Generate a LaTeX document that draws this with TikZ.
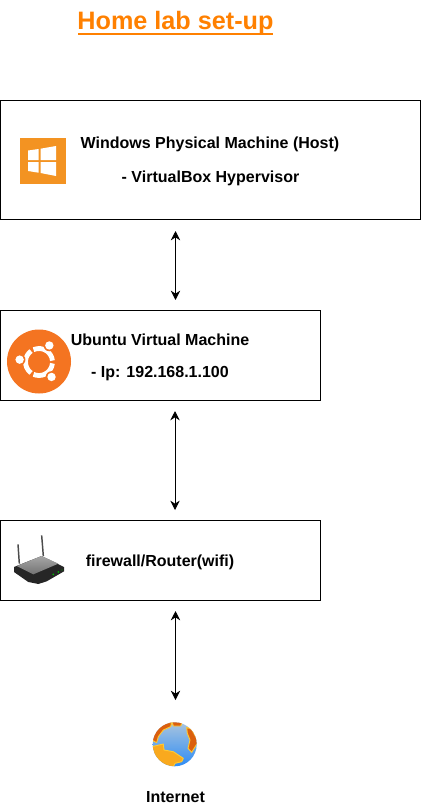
\documentclass[tikz,border=0pt]{standalone}
\usepackage{fontspec}
\usetikzlibrary{arrows.meta}
\setmainfont{Liberation Sans}
\definecolor{titleorange}{HTML}{FF8000}
\definecolor{winorange}{HTML}{F39322}
\definecolor{ubuorange}{HTML}{F47421}
\definecolor{landorange}{HTML}{F9A91E}
\definecolor{landdark}{HTML}{DB5F0E}
\definecolor{landedge}{HTML}{FFC933}
\definecolor{seatop}{HTML}{A8C4DE}
\definecolor{seabottom}{HTML}{2E8CF5}
\tikzset{
  machine/.style={draw, line width=0.75pt},
  boxtext/.style={font=\bfseries\fontsize{12}{14}\selectfont, text=black},
  link/.style={<->, line width=0.75pt},
  land/.style={draw=landedge, line width=0.7pt, line join=round}
}
\begin{document}
\begin{tikzpicture}[x=0.75pt, y=-0.75pt, >={Stealth[length=7pt,width=7pt]}]
    \useasboundingbox (0,0) rectangle (421,810);
    \node[font=\bfseries\fontsize{18.9}{21}\selectfont, text=titleorange] (title) at (175.5,23) {Home lab set-up};
    \coordinate (lineleft) at (78,33.5);
    \coordinate (lineright) at (273,33.5);
    \draw[titleorange, line width=1.5pt] (lineleft) -- (lineright);

    % boxes
    \draw[machine] (0.5,100.5) rectangle (420.5,219.5);
    \draw[machine] (0.5,310.5) rectangle (320.5,400.5);
    \draw[machine] (0.5,520.5) rectangle (320.5,600.5);

    % labels
    \node[boxtext] (hostname) at (210,144.5) {Windows Physical Machine (Host)};
    \node[boxtext] (hosthyp) at (210.5,178.5) {- VirtualBox Hypervisor};
    \node[boxtext] (ubuname) at (160,340) {Ubuntu Virtual Machine};
    \node[boxtext] (ubuip) at (160,374) {- Ip: 192.168.1.100};
    \node[boxtext] (router) at (160,562) {firewall/Router(wifi)};
    \node[boxtext] (internet) at (175.5,797) {Internet};

    % arrows
    \coordinate (hostdown) at (175.5,231);
    \coordinate (ubuup) at (175.5,300);
    \coordinate (ubudown) at (175,411);
    \coordinate (routerup) at (175,510);
    \coordinate (routerdown) at (175.5,611);
    \coordinate (netup) at (175.5,700);
    \draw[link] (hostdown) -- (ubuup);
    \draw[link] (ubudown) -- (routerup);
    \draw[link] (routerdown) -- (netup);

    % windows icon
    \fill[winorange] (20,138) rectangle (65.5,183.5);
    \fill[white] (28,150.5) -- (38.5,149) -- (38.5,160) -- (28,160) -- cycle;
    \fill[white] (40.5,148.7) -- (56,146) -- (56,160) -- (40.5,160) -- cycle;
    \fill[white] (28,162) -- (38.5,162) -- (38.5,172.7) -- (28,171) -- cycle;
    \fill[white] (40.5,162) -- (56,162) -- (56,176) -- (40.5,173) -- cycle;

    % ubuntu icon
    \fill[ubuorange] (39,361.5) circle (32);
    \begin{scope}[shift={(39,362)}]
        \foreach \a in {6,126,246} {
            \draw[white, line width=3.6pt] (\a:13.5) arc[start angle=\a, end angle=\a+108, radius=13.5];
        }
        \foreach \a in {58,173,310} {
            \fill[ubuorange] (-\a:19.5) circle (5.8);
            \fill[white] (-\a:19.5) circle (4.2);
        }
    \end{scope}

    % router icon
    \begin{scope}[shift={(10,532)}, x=0.25pt, y=-0.25pt]
        \draw[gray!60!black, line width=1.1pt] (24,37) -- (28,95);
        \draw[gray!60!black, line width=1.1pt] (95,10) -- (100,72);
        \fill[black!85] (12,105) -- (95,72) -- (162,105) -- (162,118) -- (110,148) -- (85,156) -- (55,150) -- (12,120) -- cycle;
        \shade[top color=gray!70, bottom color=black!55] (20,102) -- (95,72) -- (145,95) -- (70,127) -- cycle;
        \fill[green!70!black] (130,127) circle (3);
        \fill[green!70!black] (145,120) circle (3);
        \fill[green!60!black] (156,114) circle (2);
    \end{scope}

    % globe icon
    \shade[top color=seatop, bottom color=seabottom] (174.7,744.3) circle (22);
    \begin{scope}
        \clip (174.7,744.3) circle (22);
        \begin{scope}[shift={(150,720)}, x=0.25pt, y=-0.25pt]
            \fill[landorange, land] (5,80) -- (40,72) -- (42,90) -- (70,95) -- (100,115) -- (95,125) -- (75,130) -- (65,150) -- (40,150) -- (5,110) -- cycle;
            \fill[landdark, land] (5,60) -- (20,28) -- (45,8) -- (65,8) -- (62,20) -- (40,30) -- (25,50) -- (20,68) -- cycle;
            \fill[landdark, land] (65,2) -- (98,5) -- (92,18) -- (70,18) -- cycle;
            \fill[landdark, land] (110,22) -- (125,28) -- (145,65) -- (125,97) -- (114,85) -- (120,60) -- (112,40) -- cycle;
        \end{scope}
    \end{scope}
\end{tikzpicture}
\end{document}
